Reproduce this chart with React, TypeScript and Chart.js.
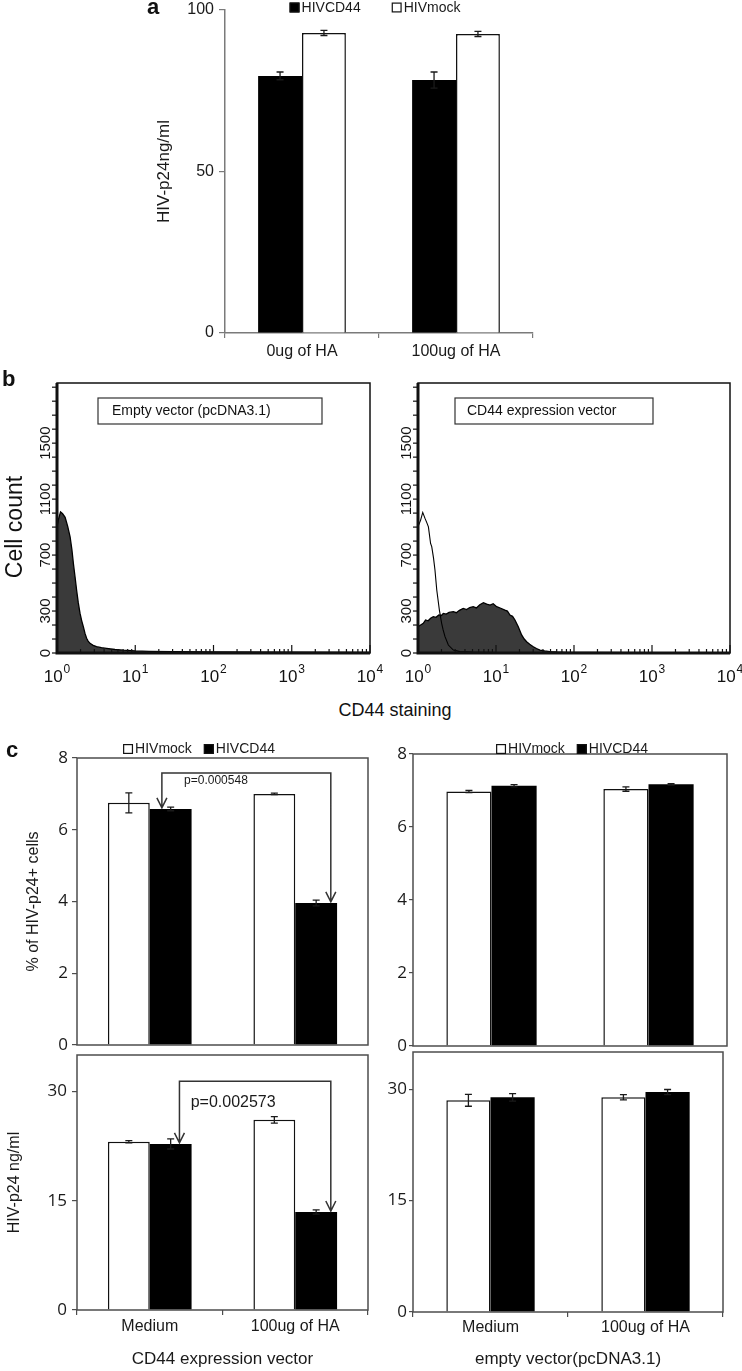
import React, { useEffect, useRef } from 'react';
import { Chart, registerables } from 'chart.js';

Chart.register(...registerables);

const FONT = 'Arial, "Liberation Sans", sans-serif';
const NUM_FONT = '"Open Sans", Arial, sans-serif';

// ===== Panel a =====
const A_CATEGORIES = ['0ug of HA', '100ug of HA'];
const A_SERIES = ['HIVCD44', 'HIVmock'];
const A_HIVCD44 = [79.6, 78.3];
const A_HIVCD44_ERR = [1.2, 2.5];
const A_HIVMOCK = [92.9, 92.6];
const A_HIVMOCK_ERR = [0.8, 0.8];

// ===== Panel b (flow cytometry histograms) =====
const HIST_Y_TICKS = [0, 300, 700, 1100, 1500];
const HIST_Y_MINOR_STEP = 100;
const HIST_Y_MAX = 1930;
const HIST_X_MIN = 1;
const HIST_X_MAX = 10000;

const EMPTY_X = [1, 1.05, 1.11, 1.18, 1.27, 1.37, 1.47, 1.55, 1.62, 1.7, 1.78, 1.87, 1.97, 2.07, 2.17, 2.28, 2.39, 2.5, 2.64, 2.9, 3.2, 3.7, 4.3, 5.5, 7, 10, 15, 30, 100, 1000, 10000];
const EMPTY_COUNT = [902, 960, 1009, 995, 970, 905, 831, 740, 640, 545, 450, 360, 283, 230, 188, 140, 105, 85, 69, 55, 45, 38, 33, 25, 20, 15, 12, 10, 8, 6, 5];

const MOCK_X = [1, 1.08, 1.15, 1.23, 1.3, 1.36, 1.45, 1.5, 1.58, 1.65, 1.74, 1.88, 2.01, 2.1, 2.22, 2.45, 2.84, 3.45, 5, 10, 100, 1000, 10000];
const MOCK_COUNT = [902, 950, 1005, 962, 930, 902, 783, 760, 680, 593, 450, 307, 212, 165, 117, 57, 21, 10, 6, 4, 3, 2, 2];

const CD44_X = [1, 1.08, 1.17, 1.25, 1.35, 1.45, 1.57, 1.7, 1.85, 2.0, 2.11, 2.3, 2.5, 2.84, 3.1, 3.4, 3.8, 4.2, 4.6, 5.1, 5.6, 6.2, 6.9, 7.6, 8.4, 9.2, 10.2, 11.5, 13, 14, 15.1, 16.3, 17.5, 19.3, 21.3, 23, 24.7, 27, 30.1, 33, 36.6, 42, 49, 60, 80, 150, 1000, 10000];
const CD44_COUNT = [188, 200, 212, 236, 230, 248, 260, 255, 272, 268, 283, 278, 290, 295, 288, 305, 319, 310, 325, 331, 322, 345, 360, 350, 343, 352, 331, 320, 307, 300, 271, 262, 236, 188, 129, 100, 81, 62, 45, 32, 21, 15, 10, 7, 5, 4, 3, 3];

// ===== Panel c =====
const C_CATEGORIES = ['Medium', '100ug of HA'];
const C_SERIES = ['HIVmock', 'HIVCD44'];
const C_PCT_CD44VEC_MOCK = [6.75, 7.0];
const C_PCT_CD44VEC_MOCK_ERR = [0.28, 0.02];
const C_PCT_CD44VEC_CD44 = [6.58, 3.96];
const C_PCT_CD44VEC_CD44_ERR = [0.05, 0.08];
const C_PCT_EMPTY_MOCK = [6.97, 7.04];
const C_PCT_EMPTY_MOCK_ERR = [0.03, 0.06];
const C_PCT_EMPTY_CD44 = [7.13, 7.17];
const C_PCT_EMPTY_CD44_ERR = [0.03, 0.02];
const C_P24_CD44VEC_MOCK = [23.1, 26.1];
const C_P24_CD44VEC_MOCK_ERR = [0.15, 0.45];
const C_P24_CD44VEC_CD44 = [22.8, 13.45];
const C_P24_CD44VEC_CD44_ERR = [0.7, 0.3];
const C_P24_EMPTY_MOCK = [28.5, 28.9];
const C_P24_EMPTY_MOCK_ERR = [0.8, 0.35];
const C_P24_EMPTY_CD44 = [28.9, 29.6];
const C_P24_EMPTY_CD44_ERR = [0.5, 0.35];
const P_VALUE_PCT = 'p=0.000548';
const P_VALUE_P24 = 'p=0.002573';
const BRACKET_LEVEL_PCT = 7.58;
const BRACKET_LEVEL_P24 = 31.4;

// ===== plugins =====
const errorBarsPlugin = {
  id: 'errorBars',
  afterDatasetsDraw(chart: any) {
    const { ctx } = chart;
    const ys = chart.scales.y;
    chart.data.datasets.forEach((ds: any, di: number) => {
      if (!ds.errors) return;
      const meta = chart.getDatasetMeta(di);
      meta.data.forEach((el: any, i: number) => {
        const v = ds.data[i];
        const e = ds.errors[i];
        const yt = ys.getPixelForValue(v + e);
        const yb = ys.getPixelForValue(v - e);
        const x = el.x;
        ctx.save();
        ctx.strokeStyle = '#1a1a1a';
        ctx.lineWidth = 1.3;
        ctx.beginPath();
        ctx.moveTo(x, yt); ctx.lineTo(x, yb);
        ctx.moveTo(x - 3.5, yt); ctx.lineTo(x + 3.5, yt);
        ctx.moveTo(x - 3.5, yb); ctx.lineTo(x + 3.5, yb);
        ctx.stroke();
        ctx.restore();
      });
    });
  },
};

const framePlugin = {
  id: 'frame',
  afterDatasetsDraw(chart: any) {
    const { ctx, chartArea: ca } = chart;
    ctx.save();
    ctx.strokeStyle = '#4d4d4d';
    ctx.lineWidth = 1.5;
    ctx.strokeRect(ca.left, ca.top, ca.right - ca.left, ca.bottom - ca.top);
    ctx.restore();
  },
};

function boxLegend(dx: number, dy: number, gap: number) {
  return {
    id: 'boxLegend',
    afterDraw(chart: any) {
      const { ctx, chartArea: ca } = chart;
      const items = chart.data.datasets.map((d: any) => ({ label: d.label, fill: d.backgroundColor }));
      ctx.save();
      ctx.font = `14px ${FONT}`;
      const box = 10;
      const pad = 2;
      const widths = items.map((it: any) => box + pad + ctx.measureText(it.label).width);
      const total = widths.reduce((a: number, b: number) => a + b, 0) + gap * (items.length - 1);
      let x = (ca.left + ca.right) / 2 + dx - total / 2;
      const y = ca.top + dy;
      items.forEach((it: any, i: number) => {
        ctx.fillStyle = it.fill;
        ctx.fillRect(x, y - box / 2, box, box);
        ctx.strokeStyle = '#111';
        ctx.lineWidth = 1.2;
        ctx.strokeRect(x + 0.6, y - box / 2 + 0.6, box - 1.2, box - 1.2);
        ctx.fillStyle = '#1a1a1a';
        ctx.textAlign = 'left';
        ctx.textBaseline = 'middle';
        ctx.fillText(it.label, x + box + pad, y + 0.5);
        x += widths[i] + gap;
      });
      ctx.restore();
    },
  };
}

function bracketPlugin(cfg: { level: number; fromIdx: number; fromFrac: number; toIdx: number; toFrac: number; text: string; fontSize: number; textFrac: number; textDy: number }) {
  return {
    id: 'bracket',
    afterDatasetsDraw(chart: any) {
      const { ctx } = chart;
      const meta = chart.getDatasetMeta(1);
      const ys = chart.scales.y;
      const a = meta.data[cfg.fromIdx];
      const b = meta.data[cfg.toIdx];
      const x1 = a.x - a.width / 2 + cfg.fromFrac * a.width;
      const x2 = b.x - b.width / 2 + cfg.toFrac * b.width;
      const y1 = a.y - 1;
      const y2 = b.y - 1;
      const yl = ys.getPixelForValue(cfg.level);
      ctx.save();
      ctx.strokeStyle = '#333';
      ctx.lineWidth = 1.5;
      ctx.beginPath();
      ctx.moveTo(x1, y1); ctx.lineTo(x1, yl); ctx.lineTo(x2, yl); ctx.lineTo(x2, y2);
      ctx.moveTo(x1 - 5, y1 - 10); ctx.lineTo(x1, y1); ctx.lineTo(x1 + 5, y1 - 10);
      ctx.moveTo(x2 - 5, y2 - 10); ctx.lineTo(x2, y2); ctx.lineTo(x2 + 5, y2 - 10);
      ctx.stroke();
      ctx.fillStyle = '#1a1a1a';
      ctx.font = `${cfg.fontSize}px ${FONT}`;
      ctx.textAlign = 'center';
      ctx.textBaseline = 'middle';
      ctx.fillText(cfg.text, x1 + cfg.textFrac * (x2 - x1), yl + cfg.textDy);
      ctx.restore();
    },
  };
}

function histDecor(boxLabel: string, boxDx: number, boxW: number, textPad: number, yTitle: string | null) {
  return {
    id: 'histDecor',
    afterDatasetsDraw(chart: any) {
      const { ctx, chartArea: ca } = chart;
      const xs = chart.scales.x;
      const ys = chart.scales.y;
      ctx.save();
      ctx.strokeStyle = '#111';
      ctx.lineWidth = 1.5;
      ctx.strokeRect(ca.left, ca.top, ca.right - ca.left, ca.bottom - ca.top);
      ctx.lineWidth = 3;
      ctx.beginPath();
      ctx.moveTo(ca.left, ca.top);
      ctx.lineTo(ca.left, ca.bottom);
      ctx.lineTo(ca.right, ca.bottom);
      ctx.stroke();
      // x ticks (log decades)
      ctx.lineWidth = 1.2;
      ctx.fillStyle = '#111';
      const e0 = Math.round(Math.log10(HIST_X_MIN));
      const e1 = Math.round(Math.log10(HIST_X_MAX));
      for (let e = e0; e <= e1; e++) {
        for (let k = 1; k <= 9; k++) {
          const v = k * Math.pow(10, e);
          if (v > HIST_X_MAX) break;
          const px = xs.getPixelForValue(v);
          const major = k === 1;
          ctx.beginPath();
          ctx.moveTo(px, ca.bottom);
          ctx.lineTo(px, ca.bottom - (major ? 8 : 4));
          ctx.stroke();
          if (major) {
            ctx.font = `17px ${FONT}`;
            ctx.textAlign = 'left';
            ctx.textBaseline = 'alphabetic';
            const base = '10';
            const exp = String(e);
            const wb = ctx.measureText(base).width;
            ctx.font = `12px ${FONT}`;
            const we = ctx.measureText(exp).width;
            const x0 = px - (wb + we + 1) / 2;
            ctx.font = `17px ${FONT}`;
            ctx.fillText(base, x0, ca.bottom + 29);
            ctx.font = `12px ${FONT}`;
            ctx.fillText(exp, x0 + wb + 1, ca.bottom + 20);
          }
        }
      }
      // y minor ticks
      for (let v = 0; v <= ys.max; v += HIST_Y_MINOR_STEP) {
        const py = ys.getPixelForValue(v);
        ctx.beginPath();
        ctx.moveTo(ca.left - 5, py);
        ctx.lineTo(ca.left, py);
        ctx.stroke();
      }
      // y labels, rotated
      ctx.font = `15px ${FONT}`;
      ctx.textAlign = 'center';
      ctx.textBaseline = 'alphabetic';
      HIST_Y_TICKS.forEach((v) => {
        const py = ys.getPixelForValue(v);
        ctx.save();
        ctx.translate(ca.left - 7, py);
        ctx.rotate(-Math.PI / 2);
        ctx.fillText(String(v), 0, 0);
        ctx.restore();
      });
      // label box
      ctx.lineWidth = 1.2;
      ctx.strokeStyle = '#333';
      const bx = ca.left + boxDx;
      const by = ca.top + 15;
      ctx.strokeRect(bx, by, boxW, 26);
      ctx.font = `14px ${FONT}`;
      ctx.textAlign = 'left';
      ctx.textBaseline = 'middle';
      ctx.fillText(boxLabel, bx + textPad, by + 13);
      if (yTitle) {
        ctx.save();
        ctx.font = `23px ${FONT}`;
        ctx.textAlign = 'center';
        ctx.textBaseline = 'alphabetic';
        ctx.translate(22, (ca.top + ca.bottom) / 2 + 9);
        ctx.rotate(-Math.PI / 2);
        ctx.fillText(yTitle, 0, 0);
        ctx.restore();
      }
      ctx.restore();
    },
  };
}

// ===== config builders =====
function barConfig(o: any) {
  return {
    type: 'bar',
    data: {
      labels: o.labels,
      datasets: o.datasets.map((d: any) => ({
        label: d.label,
        data: d.data,
        errors: d.errors,
        backgroundColor: d.fill,
        borderColor: '#111',
        borderWidth: d.fill === '#000000' ? 0 : 1.5,
        borderSkipped: 'bottom',
        categoryPercentage: o.catPct,
        barPercentage: 1,
      })),
    },
    options: {
      animation: false,
      responsive: false,
      maintainAspectRatio: false,
      devicePixelRatio: 1,
      layout: { padding: o.padding },
      plugins: { legend: { display: false }, tooltip: { enabled: false } },
      scales: {
        x: {
          offset: true,
          grid: { display: o.showX, drawOnChartArea: false, offset: true, tickLength: 5, color: o.axisColor, lineWidth: 1.2 },
          border: { display: o.open, color: o.axisColor, width: 1.5 },
          ticks: { display: o.showX, padding: o.xTickPad, color: '#1a1a1a', font: { family: FONT, size: 16 }, maxRotation: 0, autoSkip: false },
          title: o.xTitle
            ? { display: true, text: o.xTitle, color: '#1a1a1a', font: { family: FONT, size: 17 }, padding: { top: 0, bottom: 1 } }
            : { display: false },
          afterFit: (s: any) => { s.height = o.xHeight; },
        },
        y: {
          min: 0,
          max: o.yMax,
          ticks: { stepSize: o.yStep, includeBounds: false, padding: o.yTickPad, color: '#1a1a1a', font: o.yTickFont },
          grid: { drawOnChartArea: false, tickLength: o.yTickLen, color: o.axisColor, lineWidth: 1.2 },
          border: { display: o.open, color: o.axisColor, width: 1.5 },
          title: o.yTitle
            ? { display: true, text: o.yTitle.text, color: '#1a1a1a', font: { family: FONT, size: o.yTitle.size }, padding: { top: o.yTitle.pad, bottom: 0 } }
            : { display: false },
          afterFit: (s: any) => { s.width = o.yWidth; },
        },
      },
    },
    plugins: [errorBarsPlugin, ...(o.extra || [])],
  };
}

function histConfig(datasets: any[], padding: any, decor: any) {
  return {
    type: 'scatter',
    data: { datasets },
    options: {
      animation: false,
      responsive: false,
      maintainAspectRatio: false,
      devicePixelRatio: 1,
      layout: { padding },
      plugins: { legend: { display: false }, tooltip: { enabled: false } },
      scales: {
        x: { type: 'logarithmic', min: HIST_X_MIN, max: HIST_X_MAX, display: false, ticks: { display: false }, grid: { display: false }, afterFit: (s: any) => { s.height = 0; } },
        y: { type: 'linear', min: 0, max: HIST_Y_MAX, display: false, ticks: { display: false }, grid: { display: false }, afterFit: (s: any) => { s.width = 0; } },
      },
    },
    plugins: [decor],
  };
}

const toPoints = (xs: number[], ys: number[]) => xs.map((x, i) => ({ x, y: ys[i] }));

const filledSet = (label: string, xs: number[], ys: number[]) => ({
  label, data: toPoints(xs, ys), showLine: true, pointRadius: 0, borderColor: '#000', borderWidth: 1.3,
  backgroundColor: '#3a3a3a', fill: 'origin', tension: 0,
});
const lineSet = (label: string, xs: number[], ys: number[]) => ({
  label, data: toPoints(xs, ys), showLine: true, pointRadius: 0, borderColor: '#000', borderWidth: 1.1,
  backgroundColor: 'rgba(0,0,0,0)', fill: false, tension: 0,
});

const makeA = () => barConfig({
  labels: A_CATEGORIES,
  datasets: [
    { label: A_SERIES[0], data: A_HIVCD44, errors: A_HIVCD44_ERR, fill: '#000000' },
    { label: A_SERIES[1], data: A_HIVMOCK, errors: A_HIVMOCK_ERR, fill: '#ffffff' },
  ],
  catPct: 0.57, yMax: 100, yStep: 50,
  padding: { left: 0, top: 22, right: 7, bottom: 0 },
  yWidth: 85, xHeight: 37, open: true, axisColor: '#7a7a7a',
  yTickFont: { family: FONT, size: 16 }, yTickLen: 6, yTickPad: 5,
  showX: true, xTickPad: 4,
  yTitle: { text: 'HIV-p24ng/ml', size: 17, pad: 14 },
  extra: [boxLegend(-4, -2.5, 31)],
});

const makeHistEmpty = () => histConfig(
  [filledSet('Empty vector (pcDNA3.1)', EMPTY_X, EMPTY_COUNT)],
  { left: 57, top: 13, right: 22, bottom: 37 },
  histDecor('Empty vector (pcDNA3.1)', 41, 224, 14, 'Cell count'),
);

const makeHistCD44 = () => histConfig(
  [lineSet('HIVmock', MOCK_X, MOCK_COUNT), filledSet('CD44 expression vector', CD44_X, CD44_COUNT)],
  { left: 38, top: 13, right: 12, bottom: 37 },
  histDecor('CD44 expression vector', 37, 198, 12, null),
);

const cSets = (mock: number[], mockErr: number[], cd: number[], cdErr: number[]) => [
  { label: C_SERIES[0], data: mock, errors: mockErr, fill: '#ffffff' },
  { label: C_SERIES[1], data: cd, errors: cdErr, fill: '#000000' },
];

const makeC1 = () => barConfig({
  labels: C_CATEGORIES,
  datasets: cSets(C_PCT_CD44VEC_MOCK, C_PCT_CD44VEC_MOCK_ERR, C_PCT_CD44VEC_CD44, C_PCT_CD44VEC_CD44_ERR),
  catPct: 0.575, yMax: 8, yStep: 2,
  padding: { left: 0, top: 38, right: 7, bottom: 0 },
  yWidth: 77, xHeight: 20, open: false, axisColor: '#4d4d4d',
  yTickFont: { family: NUM_FONT, size: 17 }, yTickLen: 5, yTickPad: 4,
  showX: false, xTickPad: 2,
  yTitle: { text: '% of HIV-p24+ cells', size: 16, pad: 24 },
  extra: [framePlugin, boxLegend(-23.5, -9, 12), bracketPlugin({ level: BRACKET_LEVEL_PCT, fromIdx: 0, fromFrac: 0.29, toIdx: 1, toFrac: 0.85, text: P_VALUE_PCT, fontSize: 12, textFrac: 0.32, textDy: 8 })],
});

const makeC2 = () => barConfig({
  labels: C_CATEGORIES,
  datasets: cSets(C_PCT_EMPTY_MOCK, C_PCT_EMPTY_MOCK_ERR, C_PCT_EMPTY_CD44, C_PCT_EMPTY_CD44_ERR),
  catPct: 0.575, yMax: 8, yStep: 2,
  padding: { left: 0, top: 34, right: 15, bottom: 0 },
  yWidth: 38, xHeight: 20, open: false, axisColor: '#4d4d4d',
  yTickFont: { family: NUM_FONT, size: 17 }, yTickLen: 4, yTickPad: 2,
  showX: false, xTickPad: 2,
  extra: [framePlugin, boxLegend(2, -5, 12)],
});

const makeC3 = () => barConfig({
  labels: C_CATEGORIES,
  datasets: cSets(C_P24_CD44VEC_MOCK, C_P24_CD44VEC_MOCK_ERR, C_P24_CD44VEC_CD44, C_P24_CD44VEC_CD44_ERR),
  catPct: 0.575, yMax: 35, yStep: 15,
  padding: { left: 0, top: 20, right: 7, bottom: 0 },
  yWidth: 77, xHeight: 61, open: false, axisColor: '#4d4d4d',
  yTickFont: { family: NUM_FONT, size: 17 }, yTickLen: 5, yTickPad: 5,
  showX: true, xTickPad: 2,
  xTitle: 'CD44 expression vector',
  yTitle: { text: 'HIV-p24 ng/ml', size: 16, pad: 5 },
  extra: [framePlugin, bracketPlugin({ level: BRACKET_LEVEL_P24, fromIdx: 0, fromFrac: 0.71, toIdx: 1, toFrac: 0.85, text: P_VALUE_P24, fontSize: 16, textFrac: 0.355, textDy: 21 })],
});

const makeC4 = () => barConfig({
  labels: C_CATEGORIES,
  datasets: cSets(C_P24_EMPTY_MOCK, C_P24_EMPTY_MOCK_ERR, C_P24_EMPTY_CD44, C_P24_EMPTY_CD44_ERR),
  catPct: 0.57, yMax: 35, yStep: 15,
  padding: { left: 0, top: 17, right: 19, bottom: 0 },
  yWidth: 38, xHeight: 59, open: false, axisColor: '#4d4d4d',
  yTickFont: { family: NUM_FONT, size: 17 }, yTickLen: 4, yTickPad: 2,
  showX: true, xTickPad: 1,
  xTitle: 'empty vector(pcDNA3.1)',
  extra: [framePlugin],
});

function ChartCanvas({ left, top, width, height, make }: { left: number; top: number; width: number; height: number; make: () => any }) {
  const ref = useRef<HTMLCanvasElement | null>(null);
  useEffect(() => {
    if (!ref.current) return;
    const chart = new Chart(ref.current, make());
    return () => chart.destroy();
  }, []);
  return <canvas ref={ref} width={width} height={height} style={{ position: 'absolute', left, top, width, height }} />;
}

const txt = (left: number, top: number, size: number, bold: boolean, extra: any = {}) => ({
  position: 'absolute' as const,
  left,
  top,
  font: `${bold ? 'bold ' : ''}${size}px ${FONT}`,
  lineHeight: `${size}px`,
  color: '#111',
  whiteSpace: 'nowrap' as const,
  ...extra,
});

export default function App() {
  useEffect(() => {
    document.body.style.margin = '0';
  }, []);
  return (
    <div style={{ position: 'absolute', left: 0, top: 0, width: 742, height: 1371, overflow: 'hidden', background: '#fff' }}>
      <ChartCanvas left={140} top={-12} width={400} height={382} make={makeA} />
      <ChartCanvas left={0} top={370} width={392} height={320} make={makeHistEmpty} />
      <ChartCanvas left={380} top={370} width={362} height={320} make={makeHistCD44} />
      <ChartCanvas left={0} top={720} width={375} height={345} make={makeC1} />
      <ChartCanvas left={375} top={720} width={367} height={346} make={makeC2} />
      <ChartCanvas left={0} top={1035} width={375} height={336} make={makeC3} />
      <ChartCanvas left={375} top={1035} width={367} height={336} make={makeC4} />
      <div style={txt(147, -4, 22, true)}>a</div>
      <div style={txt(2, 368, 22, true)}>b</div>
      <div style={txt(6, 739, 22, true)}>c</div>
      <div style={txt(295, 701, 18, false, { width: 200, textAlign: 'center' })}>CD44 staining</div>
    </div>
  );
}
